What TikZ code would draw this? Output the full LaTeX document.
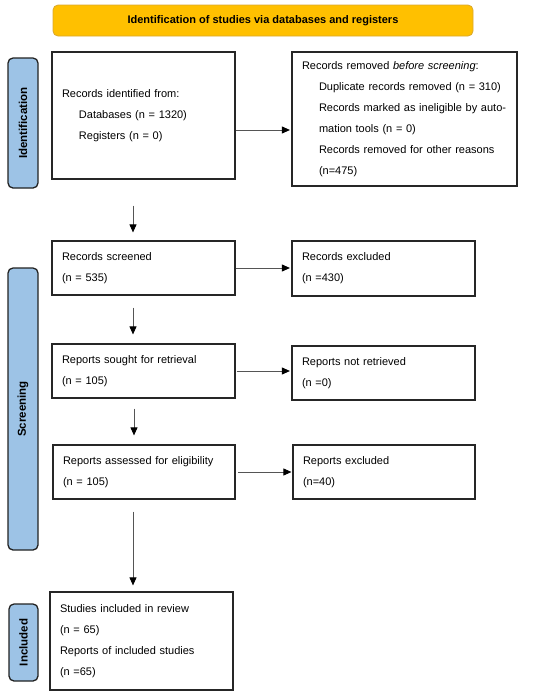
\documentclass[tikz,border=0pt]{standalone}
\usepackage{fontspec}
\setmainfont{Liberation Sans}
\usetikzlibrary{arrows.meta,calc}
\definecolor{titlefill}{HTML}{FFC000}
\definecolor{titleline}{HTML}{D9A82E}
\definecolor{sidefill}{HTML}{9DC3E6}
\definecolor{sideline}{HTML}{222222}
\definecolor{arrline}{HTML}{555555}
\begin{document}
\begin{tikzpicture}[x=1pt,y=-1pt,
  every node/.style={font=\fontsize{11}{21}\selectfont},
  box/.style={draw=black!85, line width=1.2pt, inner xsep=10pt, inner ysep=0pt, align=left},
  titlebox/.style={draw=titleline, fill=titlefill, line width=0.8pt, rounded corners=5pt, minimum width=420pt, minimum height=31pt, inner sep=0pt, font=\fontsize{11}{13}\selectfont\bfseries},
  sidebox/.style={draw=sideline, fill=sidefill, line width=1.3pt, rounded corners=5pt, inner sep=0pt},
  sidetext/.style={rotate=90, font=\fontsize{11.5}{13}\selectfont\bfseries},
  arr/.style={draw=arrline, line width=0.9pt, -{Triangle[length=8pt,width=7pt,fill=black,color=black]}}
]
\useasboundingbox (0,0) rectangle (550,697);

\node[titlebox] (title) at (263,20.5) {Identification of studies via databases and registers};

\node[sidebox, minimum width=30pt, minimum height=130pt] (sid) at (23,123) {};
\node[sidetext] (sidt) at (sid.center) {Identification};
\node[sidebox, minimum width=30pt, minimum height=282pt] (sscr) at (23,409) {};
\node[sidetext] (sscrt) at (sscr.center) {Screening};
\node[sidebox, minimum width=29pt, minimum height=77pt] (sinc) at (23.5,642.5) {};
\node[sidetext] (sinct) at (sinc.center) {Included};

\node[box, text width=163pt, minimum height=127pt] (A) at (143.5,115.5)
  {Records identified from:\\
   \hspace*{17pt}Databases (n = 1320)\\
   \hspace*{17pt}Registers (n = 0)};

\node[box, text width=205pt, minimum height=134pt] (B) at (404.5,119)
  {Records removed \textit{before screening}:\\
   \hspace*{17pt}Duplicate records removed (n = 310)\\
   \hspace*{17pt}\makebox[188pt][s]{Records marked as ineligible by auto-}\\
   \hspace*{17pt}mation tools (n = 0)\\
   \hspace*{17pt}\makebox[188pt][s]{Records removed for other reasons}\\
   \hspace*{17pt}(n=475)};

\node[box, text width=163pt, minimum height=54pt] (C) at (143.5,268)
  {Records screened\\(n = 535)};
\node[box, text width=163pt, minimum height=55pt] (D) at (383.5,268.5)
  {Records excluded\\(n =430)};

\node[box, text width=163pt, minimum height=54pt] (E) at (143.5,371)
  {Reports sought for retrieval\\(n = 105)};
\node[box, text width=163pt, minimum height=54pt] (F) at (383.5,373)
  {Reports not retrieved\\(n =0)};

\node[box, text width=162pt, minimum height=54pt] (G) at (144,472)
  {Reports assessed for eligibility\\(n = 105)};
\node[box, text width=162pt, minimum height=54pt] (H) at (384,472)
  {Reports excluded\\(n=40)};

\node[box, text width=163pt, minimum height=98pt] (I) at (141.5,641)
  {Studies included in review\\(n = 65)\\Reports of included studies\\(n =65)};

% horizontal arrows
\draw[arr, shorten >=1.5pt] (A.east |- 0,130) -- (B.west |- 0,130);
\draw[arr, shorten >=1.5pt] (C.east) -- (C.east -| D.west);
\draw[arr, shorten >=1.5pt, shorten <=1pt] (E.east) -- (E.east -| F.west);
\draw[arr, shorten >=1pt, shorten <=2.5pt] (G.east) -- (G.east -| H.west);

% vertical arrows
\draw[arr] ([xshift=-10.5pt,yshift=-26pt]A.south) -- ([xshift=-10.5pt,yshift=8pt]C.north);
\draw[arr] ([xshift=-10.5pt,yshift=-12pt]C.south) -- ([xshift=-10.5pt,yshift=9pt]E.north);
\draw[arr] ([xshift=-9.5pt,yshift=-10pt]E.south) -- ([xshift=-10pt,yshift=9pt]G.north);
\draw[arr] ([xshift=-11pt,yshift=-12pt]G.south) -- ([xshift=-8.5pt,yshift=6pt]I.north);
\end{tikzpicture}
\end{document}
